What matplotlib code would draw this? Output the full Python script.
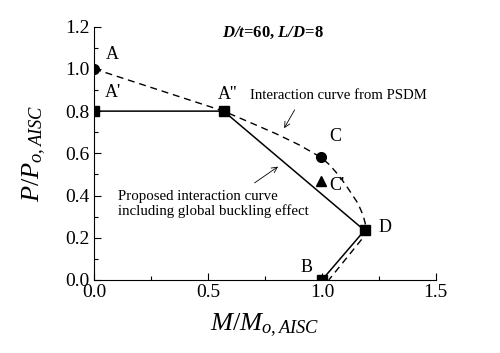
import numpy as np
import matplotlib
matplotlib.use('Agg')
import matplotlib.pyplot as plt
from matplotlib.ticker import MultipleLocator, FormatStrFormatter

plt.rcParams['font.family'] = 'Liberation Serif'
plt.rcParams['mathtext.fontset'] = 'custom'
plt.rcParams['mathtext.rm'] = 'Liberation Serif'
plt.rcParams['mathtext.it'] = 'Liberation Serif:italic'
plt.rcParams['mathtext.bf'] = 'Liberation Serif:bold'
plt.rcParams['mathtext.bfit'] = 'Liberation Serif:italic:bold'

# Proposed interaction curve (solid): A' -> A'' -> D -> B
prop_m = [0.0, 0.568, 1.187, 1.0]
prop_p = [0.8, 0.8, 0.235, 0.0]

# Interaction curve from PSDM (dashed)
psdm_m = [0.0, 0.568, 0.70, 0.80, 0.90, 0.997, 1.034, 1.078,
          1.114, 1.158, 1.18, 1.19, 1.195, 1.03]
psdm_p = [1.0, 0.80, 0.739, 0.692, 0.640, 0.58, 0.545, 0.49,
          0.435, 0.363, 0.308, 0.269, 0.22, 0.0]

# marked points
sq_m = [0.0, 0.568, 1.187, 1.0]      # A', A'', D, B
sq_p = [0.8, 0.8, 0.235, 0.0]
circ_m = [0.0, 0.997]                # A, C
circ_p = [1.0, 0.583]
tri_m = [0.997]                      # C'
tri_p = [0.47]

labels = ["A", "A'", "A''", "C", "C'", "D", "B"]
label_m = [0.078, 0.083, 0.587, 1.06, 1.065, 1.275, 0.93]
label_p = [1.066, 0.886, 0.88, 0.68, 0.45, 0.25, 0.057]

fig = plt.figure(figsize=(5.0, 3.53), dpi=100)
ax = fig.add_axes([0.1886, 0.2068, 0.683, 0.7176])

ax.plot(prop_m[:3], prop_p[:3], color='black', lw=1.1)
ax.plot(prop_m[2:], prop_p[2:], color='black', lw=1.1)
ax.plot(psdm_m, psdm_p, color='black', lw=1.0, linestyle=(0, (5, 3.5)))
ax.plot(sq_m, sq_p, 's', color='black', ms=6.5, ls='none')
ax.plot(circ_m, circ_p, 'o', color='black', ms=7, ls='none')
ax.plot(tri_m, tri_p, '^', color='black', ms=7, ls='none')

for lab, m, p in zip(labels, label_m, label_p):
    ax.text(m, p, lab, fontsize=13, ha='center', va='center')

ax.text(0.56, 1.17, r"$\mathbfit{D/t}$=60, $\mathbfit{L/D}$=8",
        fontsize=12, fontweight='bold', ha='left', va='center')

ax.text(0.685, 0.873, 'Interaction curve from PSDM', fontsize=10.6,
        ha='left', va='center')
ax.annotate('', xy=(0.834, 0.719), xytext=(0.88, 0.806),
            arrowprops=dict(arrowstyle='->', color='black', lw=0.6,
                            shrinkA=0, shrinkB=0))
ax.text(0.105, 0.36, 'Proposed interaction curve\nincluding global buckling effect',
        fontsize=10.7, ha='left', va='center', linespacing=1.2)
ax.annotate('', xy=(0.807, 0.537), xytext=(0.704, 0.46),
            arrowprops=dict(arrowstyle='->', color='black', lw=0.6,
                            shrinkA=0, shrinkB=0))

ax.set_xlim(0, 1.5)
ax.set_ylim(0, 1.2)
ax.xaxis.set_major_locator(MultipleLocator(0.5))
ax.xaxis.set_minor_locator(MultipleLocator(0.25))
ax.yaxis.set_major_locator(MultipleLocator(0.2))
ax.yaxis.set_minor_locator(MultipleLocator(0.1))
ax.xaxis.set_major_formatter(FormatStrFormatter('%.1f'))
ax.yaxis.set_major_formatter(FormatStrFormatter('%.1f'))
ax.tick_params(which='both', direction='in', labelsize=14, width=0.8)
ax.tick_params(which='major', length=5)
ax.tick_params(which='minor', length=3)
ax.tick_params(axis='x', pad=3)
ax.spines['top'].set_visible(False)
ax.spines['right'].set_visible(False)

ax.set_xlabel(r'$M/M_{o,AISC}$', fontsize=19, labelpad=7)
ax.set_ylabel(r'$P/P_{o,AISC}$', fontsize=19, labelpad=12)

fig.savefig('out.png', dpi=100)
